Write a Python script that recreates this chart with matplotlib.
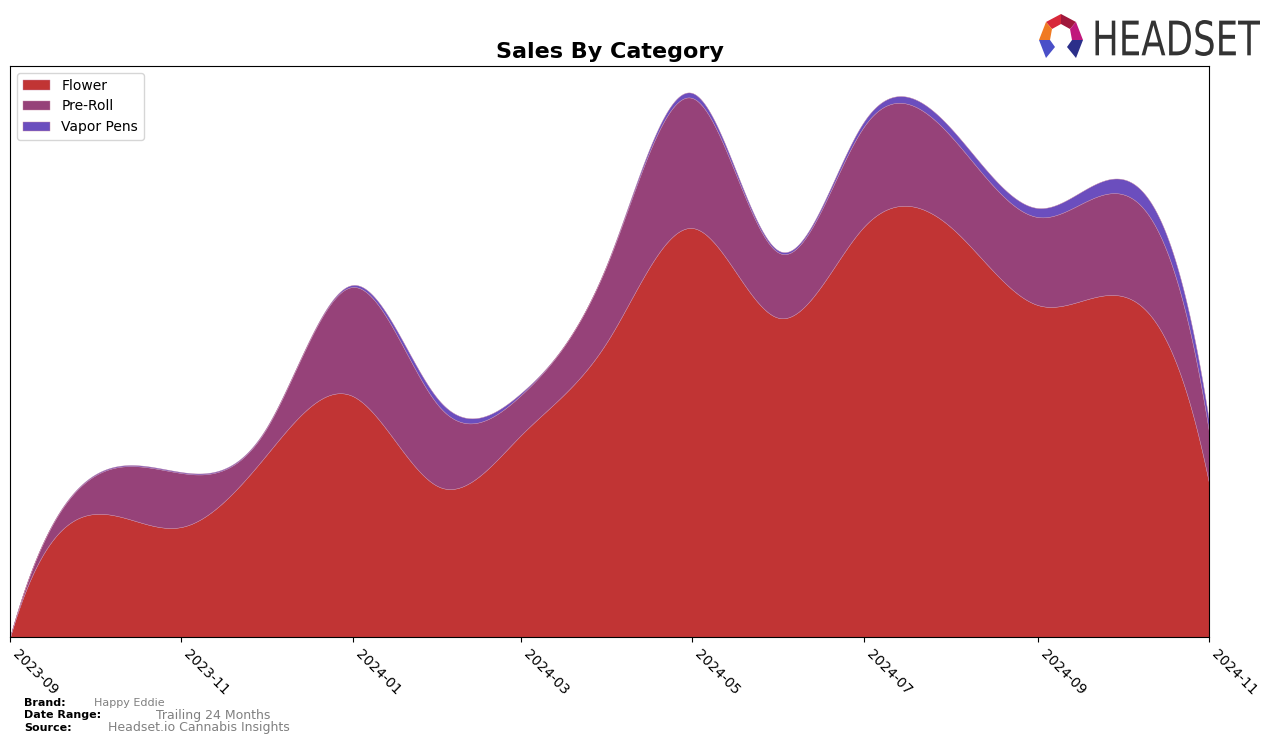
import numpy as np
import pandas as pd
import matplotlib
matplotlib.use("Agg")
import matplotlib.pyplot as plt
import matplotlib.dates as mdates
from matplotlib.textpath import TextPath
from matplotlib.font_manager import FontProperties
from matplotlib.patches import PathPatch, Polygon
from matplotlib.path import Path

# Monthly sales by category (arbitrary units)
months = pd.date_range("2023-09-01", "2024-11-01", freq="MS")
flower = [0, 123, 110, 181, 241, 150, 202, 297, 409, 319, 410, 410, 332, 341, 154]
pre_roll = [0, 38, 54, 26, 109, 80, 40, 78, 130, 65, 100, 91, 88, 102, 51]
vapor_pens = [0, 1, 1, 1, 2, 6, 2, 1, 5, 2, 5, 8, 9, 15, 11]

categories = ["Flower", "Pre-Roll", "Vapor Pens"]
colors = ["#c13434", "#964279", "#6b4ebe"]


def spline(x, y, xs):
    # cubic spline with not-a-knot ends
    x = np.asarray(x, float)
    y = np.asarray(y, float)
    n = len(x)
    h = np.diff(x)
    A = np.zeros((n, n))
    rhs = np.zeros(n)
    A[0, 0], A[0, 1], A[0, 2] = h[1], -(h[0] + h[1]), h[0]
    A[-1, -3], A[-1, -2], A[-1, -1] = h[-1], -(h[-2] + h[-1]), h[-2]
    for i in range(1, n - 1):
        A[i, i - 1] = h[i - 1]
        A[i, i] = 2 * (h[i - 1] + h[i])
        A[i, i + 1] = h[i]
        rhs[i] = 6 * ((y[i + 1] - y[i]) / h[i] - (y[i] - y[i - 1]) / h[i - 1])
    M = np.linalg.solve(A, rhs)
    k = np.clip(np.searchsorted(x, xs) - 1, 0, n - 2)
    hk = h[k]
    a = (x[k + 1] - xs) / hk
    b = (xs - x[k]) / hk
    return (a * y[k] + b * y[k + 1]
            + ((a ** 3 - a) * M[k] + (b ** 3 - b) * M[k + 1]) * hk ** 2 / 6)


xnum = mdates.date2num(months)
xs = np.linspace(xnum[0], xnum[-1], 600)
layers = [np.clip(spline(xnum, s, xs), 0, None) for s in (flower, pre_roll, vapor_pens)]

fig = plt.figure(figsize=(12.76, 7.44), dpi=100)
ax = fig.add_axes([10 / 1276, 107 / 744, 1199 / 1276, 571 / 744])

ax.stackplot(mdates.num2date(xs), *layers, labels=categories, colors=colors,
             edgecolor="#c88aa8", linewidth=0.3)

ax.set_xlim(months[0], months[-1])
ax.set_ylim(0, 571)
ax.set_yticks([])
ax.set_xticks(months[::2])
ax.set_xticklabels([d.strftime("%Y-%m") for d in months[::2]],
                   rotation=-45, ha="left", fontsize=10)
ax.set_title("Sales By Category", fontsize=16, fontweight="bold")
ax.legend(loc="upper left", fontsize=10)

# footer
def px(x, y):
    return x / 1276, 1 - y / 744

fig.text(*px(24, 703), "Brand:", fontsize=8, fontweight="bold", va="center")
fig.text(*px(94, 703), "Happy Eddie", fontsize=8, color="gray", va="center")
fig.text(*px(24, 715), "Date Range:", fontsize=8, fontweight="bold", va="center")
fig.text(*px(156, 715), "Trailing 24 Months", fontsize=9, color="gray", va="center")
fig.text(*px(24, 728), "Source:", fontsize=8, fontweight="bold", va="center")
fig.text(*px(108, 728), "Headset.io Cannabis Insights", fontsize=9, color="gray", va="center")

# logo text, squeezed into its box
tp = TextPath((0, 0), "HEADSET", size=1, prop=FontProperties(family="DejaVu Sans"))
v = tp.vertices.copy()
x0, y0 = v.min(axis=0)
x1, y1 = v.max(axis=0)
bx0, by0 = px(1092, 56)
bx1, by1 = px(1260, 20)
v[:, 0] = bx0 + (v[:, 0] - x0) / (x1 - x0) * (bx1 - bx0)
v[:, 1] = by0 + (v[:, 1] - y0) / (y1 - y0) * (by1 - by0)
fig.add_artist(PathPatch(Path(v, tp.codes), transform=fig.transFigure,
                         facecolor="#333333", edgecolor="none"))

# logo icon
icon = [
    ([(1046, 22), (1061, 14), (1061, 24), (1052, 29)], "#d8283a"),
    ([(1061, 14), (1076, 22), (1070, 29), (1061, 24)], "#a0183c"),
    ([(1076, 22), (1083, 40), (1072, 40), (1070, 29)], "#c0187c"),
    ([(1046, 22), (1052, 29), (1050, 40), (1039, 40)], "#f07a22"),
    ([(1039, 40), (1050, 40), (1055, 47), (1046, 58)], "#4a4fc8"),
    ([(1083, 40), (1072, 40), (1067, 47), (1076, 58)], "#2b2f8a"),
]
for pts, c in icon:
    fig.add_artist(Polygon([px(*p) for p in pts], closed=True,
                           transform=fig.transFigure, facecolor=c, edgecolor="none"))

fig.savefig("out.png", dpi=100)
